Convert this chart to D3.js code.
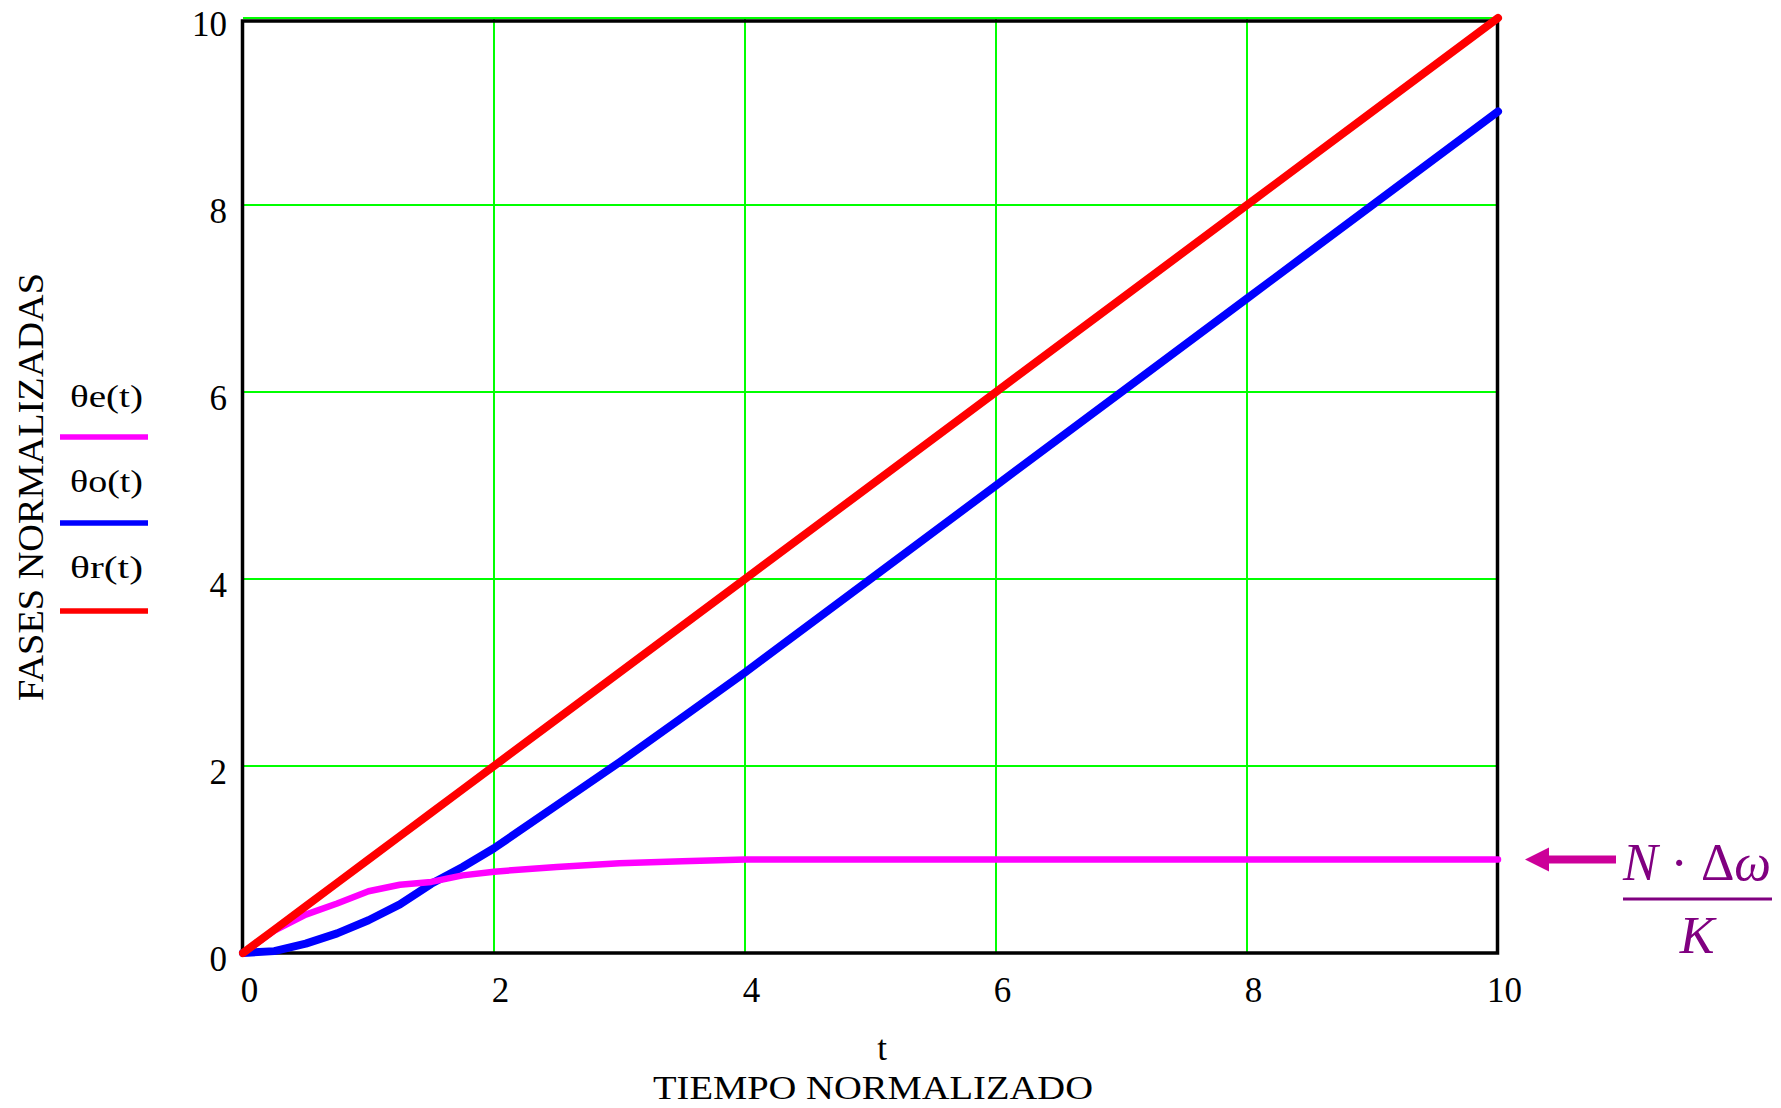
<!DOCTYPE html>
<html>
<head>
<meta charset="utf-8">
<script src="https://cdn.jsdelivr.net/npm/d3@7"></script>
<style>
  html, body { margin: 0; padding: 0; background: #fff; }
  svg { display: block; }
  text { font-family: "Liberation Serif", "DejaVu Serif", serif; fill: #000; }
</style>
</head>
<body>
<svg id="chart" width="1781" height="1108"></svg>
<script>
// ---- data ----
const tValues = [0, 0.25, 0.5, 0.75, 1, 1.25, 1.5, 1.75, 2, 2.5, 3, 3.5, 4, 5, 6, 7, 8, 9, 10];
const thetaR  = [0, 0.25, 0.5, 0.75, 1, 1.25, 1.5, 1.75, 2, 2.5, 3, 3.5, 4, 5, 6, 7, 8, 9, 10];
const thetaE  = [0, 0.24, 0.41, 0.53, 0.66, 0.73, 0.76, 0.83, 0.87, 0.92, 0.96, 0.98, 1.0, 1.0, 1.0, 1.0, 1.0, 1.0, 1.0];
const thetaO  = [0, 0.02, 0.10, 0.21, 0.35, 0.52, 0.74, 0.92, 1.12, 1.58, 2.04, 2.52, 3.0, 4.0, 5.0, 6.0, 7.0, 8.0, 9.0];
const xTicks = [0, 2, 4, 6, 8, 10];
const yTicks = [0, 2, 4, 6, 8, 10];
const seriesNames = ["θe(t)", "θo(t)", "θr(t)"];
const seriesColors = ["#ff00ff", "#0000ff", "#ff0000"];
const annotationValue = 1.0;

// ---- layout ----
const svg = d3.select("#chart");
const x = d3.scaleLinear().domain([0, 10]).range([243, 1498]);
const y = d3.scaleLinear().domain([0, 10]).range([953, 18]);

// grid
const grid = svg.append("g");
grid.selectAll("line.h").data(yTicks.filter(d => d > 0)).enter().append("line")
  .attr("x1", x(0)).attr("x2", x(10))
  .attr("y1", d => y(d)).attr("y2", d => y(d))
  .attr("stroke", "#00ff00").attr("stroke-width", 2);
grid.selectAll("line.v").data(xTicks.filter(d => d > 0 && d < 10)).enter().append("line")
  .attr("y1", y(0)).attr("y2", y(10))
  .attr("x1", d => x(d)).attr("x2", d => x(d))
  .attr("stroke", "#00ff00").attr("stroke-width", 2);

// frame
svg.append("rect")
  .attr("x", x(0) - 0.5).attr("y", y(10) + 3)
  .attr("width", x(10) - x(0)).attr("height", y(0) - y(10) - 3)
  .attr("fill", "none").attr("stroke", "#000").attr("stroke-width", 3.5);

// axes (labels only, via d3 axis)
const xAxis = svg.append("g").attr("transform", `translate(0,${y(0)})`)
  .call(d3.axisBottom(x).tickValues(xTicks).tickSize(0).tickPadding(0).tickFormat(d3.format("d")));
xAxis.select(".domain").remove();
xAxis.selectAll("text").attr("font-size", 35).attr("font-family", "Liberation Serif").attr("fill", "#000")
  .attr("y", 49).attr("dy", 0).attr("dx", 6);

const yAxis = svg.append("g").attr("transform", `translate(${x(0)},0)`)
  .call(d3.axisLeft(y).tickValues(yTicks).tickSize(0).tickPadding(0).tickFormat(d3.format("d")));
yAxis.select(".domain").remove();
yAxis.selectAll("text").attr("font-size", 35).attr("font-family", "Liberation Serif").attr("fill", "#000")
  .attr("x", -16).attr("dy", 17);

// series
const line = d3.line().x((d, i) => x(tValues[i])).y(d => y(d));
const series = [thetaE, thetaO, thetaR];
const widths = [6.5, 8, 8];
[1, 0, 2].forEach(k => {
  svg.append("path").datum(series[k])
    .attr("d", line)
    .attr("fill", "none")
    .attr("stroke", seriesColors[k])
    .attr("stroke-width", widths[k])
    .attr("stroke-linejoin", "round")
    .attr("stroke-linecap", "round");
});

// axis titles
svg.append("text").attr("x", 882).attr("y", 1060).attr("text-anchor", "middle")
  .attr("font-size", 35).text("t");
svg.append("text").attr("x", 873).attr("y", 1099).attr("text-anchor", "middle")
  .attr("font-size", 34).attr("textLength", 440).attr("lengthAdjust", "spacingAndGlyphs")
  .text("TIEMPO NORMALIZADO");
svg.append("text").attr("transform", "translate(43,487) rotate(-90)").attr("text-anchor", "middle")
  .attr("font-size", 36).attr("textLength", 428).attr("lengthAdjust", "spacingAndGlyphs")
  .text("FASES NORMALIZADAS");

// legend
const legTextY = [407, 492, 578];
const legLineY = [437, 523, 611];
seriesNames.forEach((name, i) => {
  svg.append("text").attr("x", 70).attr("y", legTextY[i])
    .attr("font-size", 31).attr("textLength", 73).attr("lengthAdjust", "spacingAndGlyphs")
    .text(name);
  svg.append("line").attr("x1", 60).attr("x2", 148)
    .attr("y1", legLineY[i]).attr("y2", legLineY[i])
    .attr("stroke", seriesColors[i]).attr("stroke-width", 5.5);
});

// annotation arrow + fraction
const ay = y(annotationValue);
const arrowColor = "#cc0099";
svg.append("line").attr("x1", 1546).attr("x2", 1616).attr("y1", ay).attr("y2", ay)
  .attr("stroke", arrowColor).attr("stroke-width", 8);
svg.append("path")
  .attr("d", `M1525,${ay} L1549,${ay - 12} L1549,${ay + 12} Z`)
  .attr("fill", arrowColor);

const purple = "#800080";
const num = svg.append("text").attr("x", 1697).attr("y", 880).attr("text-anchor", "middle")
  .attr("font-size", 52).style("fill", purple);
num.append("tspan").attr("font-style", "italic").text("N");
num.append("tspan").text(" · Δ");
num.append("tspan").attr("font-style", "italic").text("ω");
svg.append("line").attr("x1", 1623).attr("x2", 1772).attr("y1", 899).attr("y2", 899)
  .attr("stroke", purple).attr("stroke-width", 3);
svg.append("text").attr("x", 1697).attr("y", 953).attr("text-anchor", "middle")
  .attr("font-size", 52).attr("font-style", "italic").style("fill", purple).text("K");
</script>
</body>
</html>
